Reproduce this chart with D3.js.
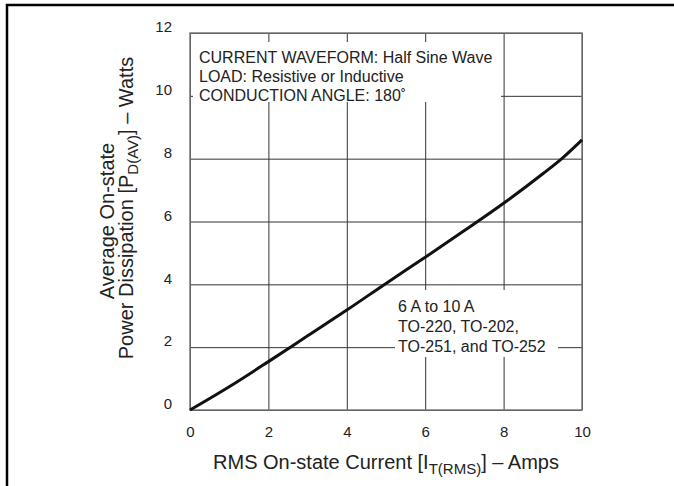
<!DOCTYPE html>
<html>
<head>
<meta charset="utf-8">
<script src="https://cdn.jsdelivr.net/npm/d3@7"></script>
<style>
  body { margin: 0; background: #fff; }
  text { font-family: "Liberation Sans", Arial, sans-serif; fill: #222; }
</style>
</head>
<body>
<svg id="chart" width="674" height="486"></svg>
<script>
// data: RMS on-state current (A) vs average power (W)
const current = [0, 1, 2, 3, 4, 5, 6, 7, 8, 9, 9.5, 10];
const power   = [0, 0.74, 1.54, 2.36, 3.18, 4.03, 4.86, 5.71, 6.58, 7.52, 8.02, 8.6];
const xTicks = [0, 2, 4, 6, 8, 10];
const yTicks = [0, 2, 4, 6, 8, 10, 12];
const noteTop = ["CURRENT WAVEFORM: Half Sine Wave", "LOAD: Resistive or Inductive", "CONDUCTION ANGLE: 180˚"];
const noteBottom = ["6 A to 10 A", "TO-220, TO-202,", "TO-251, and TO-252"];

const svg = d3.select("#chart");
const plotLeft = 190, plotRight = 582, plotTop = 33, plotBottom = 410;
const width = plotRight - plotLeft, height = plotBottom - plotTop;

const x = d3.scaleLinear().domain([0, 10]).range([plotLeft, plotRight]);
const y = d3.scaleLinear().domain([0, 12]).range([plotBottom, plotTop]);

// outer frame (top and left edges only)
svg.append("path")
    .attr("d", "M7,486 V5 H674")
    .style("fill", "none").style("stroke", "#000").style("stroke-width", 2.5);

// grid
svg.append("g").attr("transform", `translate(0,${plotBottom})`)
    .call(d3.axisBottom(x).tickValues(xTicks).tickSize(-height).tickFormat(""))
    .call(g => g.select(".domain").remove())
    .selectAll("line").style("stroke", "#333").style("stroke-width", 1);
svg.append("g").attr("transform", `translate(${plotLeft},0)`)
    .call(d3.axisLeft(y).tickValues(yTicks).tickSize(-width).tickFormat(""))
    .call(g => g.select(".domain").remove())
    .selectAll("line").style("stroke", "#333").style("stroke-width", 1);

// white boxes behind the notes
svg.append("rect").attr("x", 193).attr("y", 42).attr("width", 308).attr("height", 60).style("fill", "#fff");
svg.append("rect").attr("x", 395).attr("y", 290).attr("width", 163).attr("height", 67).style("fill", "#fff");

// plot border
svg.append("rect").attr("x", plotLeft).attr("y", plotTop).attr("width", width).attr("height", height)
    .style("fill", "none").style("stroke", "#777").style("stroke-width", 1.5);

// tick labels
svg.append("g").attr("transform", `translate(0,${plotBottom})`)
    .call(d3.axisBottom(x).tickValues(xTicks).tickSize(0).tickPadding(16))
    .call(g => g.select(".domain").remove())
    .selectAll("text").style("font-size", "15px").style("font-family", "Liberation Sans, Arial, sans-serif").style("fill", "#222");
svg.append("g").attr("transform", `translate(${plotLeft},0)`)
    .call(d3.axisLeft(y).tickValues(yTicks).tickSize(0).tickPadding(18))
    .call(g => g.select(".domain").remove())
    .selectAll("text").attr("dy", "-0.08em")
    .style("font-size", "15px").style("font-family", "Liberation Sans, Arial, sans-serif").style("fill", "#222");

// curve
const line = d3.line().x(d => x(d[0])).y(d => y(d[1])).curve(d3.curveMonotoneX);
svg.append("path")
    .datum(d3.zip(current, power))
    .attr("d", line)
    .style("fill", "none").style("stroke", "#111").style("stroke-width", 3);

// notes
svg.append("g").selectAll("text").data(noteTop).enter()
    .append("text")
    .attr("x", 199).attr("y", (d, i) => 63 + i * 19)
    .style("font-size", "16px")
    .text(d => d);
svg.append("g").selectAll("text").data(noteBottom).enter()
    .append("text")
    .attr("x", 398).attr("y", (d, i) => 312 + i * 20)
    .style("font-size", "16px")
    .text(d => d);

// x title
const xt = svg.append("text").attr("x", (plotLeft + plotRight) / 2).attr("y", 469)
    .attr("text-anchor", "middle").style("font-size", "20px");
xt.append("tspan").text("RMS On-state Current [I");
xt.append("tspan").attr("dy", 5).style("font-size", "15px").text("T(RMS)");
xt.append("tspan").attr("dy", -5).text("] – Amps");

// y title
svg.append("text")
    .attr("transform", "translate(114,221) rotate(-90)")
    .attr("text-anchor", "middle").style("font-size", "20px")
    .text("Average On-state");
const yt = svg.append("text")
    .attr("transform", "translate(133,208) rotate(-90)")
    .attr("text-anchor", "middle").style("font-size", "20px");
yt.append("tspan").text("Power Dissipation [P");
yt.append("tspan").attr("dy", 5).style("font-size", "15px").text("D(AV)");
yt.append("tspan").attr("dy", -5).text("] – Watts");
</script>
</body>
</html>
